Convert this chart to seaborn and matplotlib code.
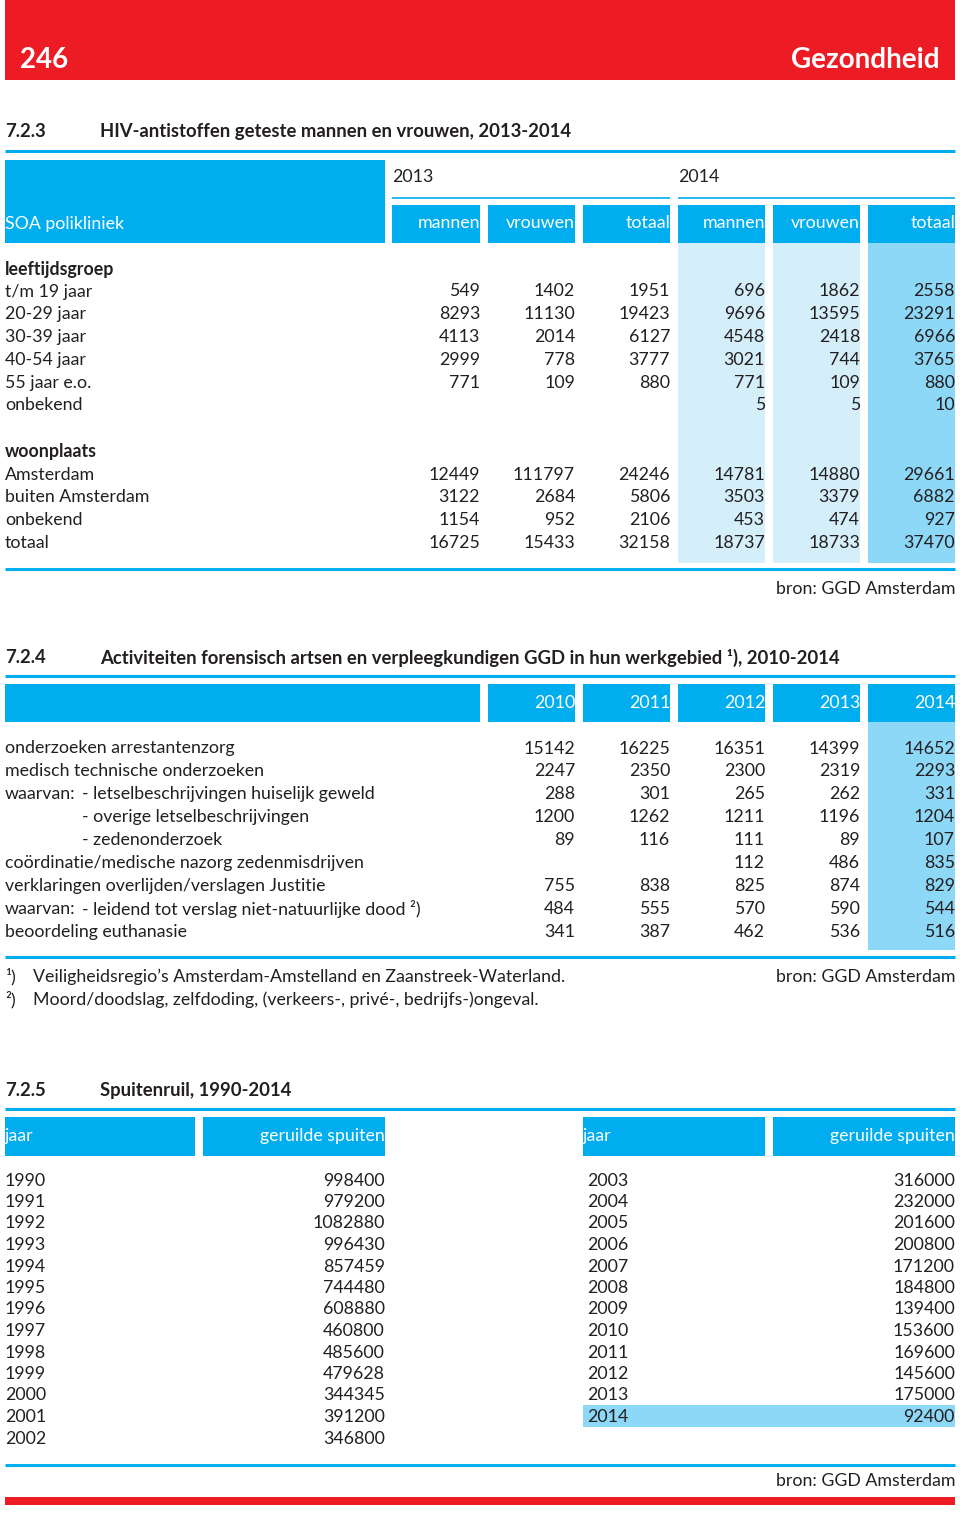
import seaborn as sns
import matplotlib.pyplot as plt
from matplotlib.patches import Rectangle

# kleuren
RED = "#ED1C24"
BLUE = "#00AEEF"
LIGHT = "#D4EEFA"
MID = "#8DD7F7"
INK = "#231F20"

# 7.2.3 HIV-antistoffen
hiv_cols = ["mannen", "vrouwen", "totaal", "mannen", "vrouwen", "totaal"]
hiv_years = ["2013", "2014"]
leeftijd_labels = ["t/m 19 jaar", "20-29 jaar", "30-39 jaar", "40-54 jaar", "55 jaar e.o.", "onbekend"]
leeftijd_vals = [
    [549, 1402, 1951, 696, 1862, 2558],
    [8293, 11130, 19423, 9696, 13595, 23291],
    [4113, 2014, 6127, 4548, 2418, 6966],
    [2999, 778, 3777, 3021, 744, 3765],
    [771, 109, 880, 771, 109, 880],
    [None, None, None, 5, 5, 10],
]
woon_labels = ["Amsterdam", "buiten Amsterdam", "onbekend", "totaal"]
woon_vals = [
    [12449, 111797, 24246, 14781, 14880, 29661],
    [3122, 2684, 5806, 3503, 3379, 6882],
    [1154, 952, 2106, 453, 474, 927],
    [16725, 15433, 32158, 18737, 18733, 37470],
]

# 7.2.4 forensische activiteiten
for_years = ["2010", "2011", "2012", "2013", "2014"]
for_labels = [
    ("", "onderzoeken arrestantenzorg"),
    ("", "medisch technische onderzoeken"),
    ("waarvan:", "- letselbeschrijvingen huiselijk geweld"),
    ("", "- overige letselbeschrijvingen"),
    ("", "- zedenonderzoek"),
    ("", "coördinatie/medische nazorg zedenmisdrijven"),
    ("", "verklaringen overlijden/verslagen Justitie"),
    ("waarvan:", "- leidend tot verslag niet-natuurlijke dood ²)"),
    ("", "beoordeling euthanasie"),
]
for_vals = [
    [15142, 16225, 16351, 14399, 14652],
    [2247, 2350, 2300, 2319, 2293],
    [288, 301, 265, 262, 331],
    [1200, 1262, 1211, 1196, 1204],
    [89, 116, 111, 89, 107],
    [None, None, 112, 486, 835],
    [755, 838, 825, 874, 829],
    [484, 555, 570, 590, 544],
    [341, 387, 462, 536, 516],
]

# 7.2.5 spuitenruil
spuit_jaar_l = [1990, 1991, 1992, 1993, 1994, 1995, 1996, 1997, 1998, 1999, 2000, 2001, 2002]
spuit_val_l = [998400, 979200, 1082880, 996430, 857459, 744480, 608880, 460800, 485600,
               479628, 344345, 391200, 346800]
spuit_jaar_r = [2003, 2004, 2005, 2006, 2007, 2008, 2009, 2010, 2011, 2012, 2013, 2014]
spuit_val_r = [316000, 232000, 201600, 200800, 171200, 184800, 139400, 153600, 169600,
               145600, 175000, 92400]

sns.set_theme(style="white")
plt.rcParams["font.family"] = ["Lato", "DejaVu Sans"]

fig = plt.figure(figsize=(9.6, 15.16), dpi=100)
ax = fig.add_axes([0, 0, 1, 1])
ax.set_xlim(0, 960)
ax.set_ylim(1516, 0)
ax.axis("off")

FS = 12.8


def box(x0, x1, y0, y1, color):
    ax.add_patch(Rectangle((x0, y0), x1 - x0, y1 - y0, color=color, lw=0, zorder=1))


def txt(x, y, s, ha="left", color=INK, size=FS, weight="normal"):
    ax.text(x, y + 1.5, s, ha=ha, va="center", color=color, fontsize=size, fontweight=weight, zorder=3)


def hline(y, x0=5, x1=955, lw=2.2, color=BLUE):
    ax.plot([x0, x1], [y, y], color=color, lw=lw, solid_capstyle="butt", zorder=2)


def title(y, nr, s):
    txt(5, y, nr, weight="bold", size=13.3)
    txt(100, y, s, weight="bold", size=13.3)


# kop
box(5, 955, 0, 80, RED)
txt(20, 58, "246", color="white", size=20, weight="bold")
txt(940, 58, "Gezondheid", ha="right", color="white", size=20, weight="bold")

# ---- 7.2.3 ----
title(130, "7.2.3", "HIV-antistoffen geteste mannen en vrouwen, 2013-2014")
hline(151)
col_l = [392, 488, 583, 678, 773, 868]
col_r = [480, 575, 670, 765, 860, 955]
box(5, 385, 160, 243, BLUE)
txt(5, 222, "SOA polikliniek", color="white")
for x, yr in zip([392, 678], hiv_years):
    txt(x, 176, yr)
hline(198, 392, 670, lw=1.2)
hline(198, 678, 955, lw=1.2)
for i, c in enumerate(hiv_cols):
    box(col_l[i], col_r[i], 205, 243, BLUE)
    txt(col_r[i], 222, c, ha="right", color="white")
for i in (3, 4):
    box(col_l[i], col_r[i], 243, 563, LIGHT)
box(col_l[5], col_r[5], 243, 563, MID)

step = 22.8
txt(5, 268, "leeftijdsgroep", weight="bold")
for r, (lab, vals) in enumerate(zip(leeftijd_labels, leeftijd_vals)):
    y = 290 + r * step
    txt(5, y, lab)
    for i, v in enumerate(vals):
        if v is not None:
            txt(col_r[i], y, str(v), ha="right")
txt(5, 450, "woonplaats", weight="bold")
for r, (lab, vals) in enumerate(zip(woon_labels, woon_vals)):
    y = 473 + r * step
    txt(5, y, lab)
    for i, v in enumerate(vals):
        txt(col_r[i], y, str(v), ha="right")
hline(569)
txt(955, 588, "bron: GGD Amsterdam", ha="right")

# ---- 7.2.4 ----
title(656, "7.2.4", "Activiteiten forensisch artsen en verpleegkundigen GGD in hun werkgebied ¹), 2010-2014")
hline(676)
fcol_l = [488, 583, 678, 773, 868]
fcol_r = [575, 670, 765, 860, 955]
box(5, 480, 684, 722, BLUE)
for i, yr in enumerate(for_years):
    box(fcol_l[i], fcol_r[i], 684, 722, BLUE)
    txt(fcol_r[i], 701, yr, ha="right", color="white")
box(fcol_l[4], fcol_r[4], 722, 950, MID)
for r, ((pre, lab), vals) in enumerate(zip(for_labels, for_vals)):
    y = 747 + r * 22.9
    if pre:
        txt(5, y, pre)
    txt(82 if (pre or lab.startswith("-")) else 5, y, lab)
    for i, v in enumerate(vals):
        if v is not None:
            txt(fcol_r[i], y, str(v), ha="right")
hline(957)
txt(5, 975, "¹)")
txt(33, 975, "Veiligheidsregio’s Amsterdam-Amstelland en Zaanstreek-Waterland.")
txt(5, 998, "²)")
txt(33, 998, "Moord/doodslag, zelfdoding, (verkeers-, privé-, bedrijfs-)ongeval.")
txt(955, 975, "bron: GGD Amsterdam", ha="right")

# ---- 7.2.5 ----
title(1089, "7.2.5", "Spuitenruil, 1990-2014")
hline(1109)
for (x0, x1, xv0, xv1) in [(5, 195, 203, 385), (583, 765, 773, 955)]:
    box(x0, x1, 1117, 1156, BLUE)
    box(xv0, xv1, 1117, 1156, BLUE)
    txt(x0, 1135, "jaar", color="white")
    txt(xv1, 1135, "geruilde spuiten", ha="right", color="white")
sstep = 21.5
for r, (j, v) in enumerate(zip(spuit_jaar_l, spuit_val_l)):
    y = 1179 + r * sstep
    txt(5, y, str(j))
    txt(385, y, str(v), ha="right")
for r, (j, v) in enumerate(zip(spuit_jaar_r, spuit_val_r)):
    y = 1179 + r * sstep
    if j == spuit_jaar_r[-1]:
        box(583, 955, y - 11, y + 11, MID)
    txt(587, y, str(j))
    txt(955, y, str(v), ha="right")
hline(1465)
txt(955, 1480, "bron: GGD Amsterdam", ha="right")
box(5, 955, 1497, 1505, RED)

fig.savefig("out.png", dpi=100)
